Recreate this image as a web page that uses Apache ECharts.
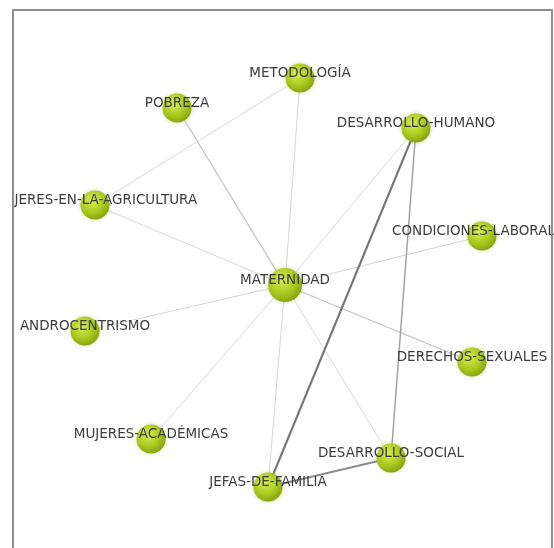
<!DOCTYPE html>
<html>
<head>
<meta charset="utf-8">
<script src="https://cdn.jsdelivr.net/npm/echarts@6/dist/echarts.min.js"></script>
<style>
  html, body { margin: 0; padding: 0; background: #fff; }
  #chart { width: 554px; height: 548px; }
</style>
</head>
<body>
<div id="chart"></div>
<script>
// nodes (layout positions)
const nodeNames = [
  'MATERNIDAD', 'METODOLOGÍA', 'POBREZA', 'DESARROLLO-HUMANO',
  'MUJERES-EN-LA-AGRICULTURA', 'CONDICIONES-LABORALES', 'ANDROCENTRISMO',
  'DERECHOS-SEXUALES', 'MUJERES-ACADÉMICAS', 'DESARROLLO-SOCIAL', 'JEFAS-DE-FAMILIA'
]
const nodeX = [285, 300, 177, 416, 95, 482, 85, 472, 151, 391, 268]
const nodeY = [285, 78, 108, 128, 205, 236, 331, 362, 439, 458, 487]

// edges
const edgeSource = [
  'MATERNIDAD', 'MATERNIDAD', 'MATERNIDAD', 'MATERNIDAD', 'MATERNIDAD',
  'MATERNIDAD', 'MATERNIDAD', 'MATERNIDAD', 'MATERNIDAD', 'MATERNIDAD',
  'METODOLOGÍA', 'DESARROLLO-HUMANO', 'DESARROLLO-HUMANO', 'DESARROLLO-SOCIAL'
]
const edgeTarget = [
  'METODOLOGÍA', 'POBREZA', 'MUJERES-EN-LA-AGRICULTURA', 'DESARROLLO-HUMANO', 'CONDICIONES-LABORALES',
  'ANDROCENTRISMO', 'DERECHOS-SEXUALES', 'MUJERES-ACADÉMICAS', 'DESARROLLO-SOCIAL', 'JEFAS-DE-FAMILIA',
  'MUJERES-EN-LA-AGRICULTURA', 'JEFAS-DE-FAMILIA', 'DESARROLLO-SOCIAL', 'JEFAS-DE-FAMILIA'
]
const edgeWeight = [1, 2, 1, 1, 1, 1, 2, 1, 1, 1, 1, 5, 3, 4]

const edgeColors = ['#d6d6d6', '#c2c2c2', '#a2a2a2', '#8c8c8c', '#767676']
const edgeWidths = [1, 1.3, 1.5, 1.8, 2.1]

const chart = echarts.init(document.getElementById('chart'))

const degree = {}
edgeSource.forEach((s, i) => {
  degree[s] = (degree[s] || 0) + 1
  degree[edgeTarget[i]] = (degree[edgeTarget[i]] || 0) + 1
})

const nodeColor = {
  type: 'radial',
  x: 0.4,
  y: 0.35,
  r: 0.75,
  colorStops: [
    { offset: 0, color: '#d8ef52' },
    { offset: 0.55, color: '#a9c81e' },
    { offset: 1, color: '#7c980c' },
  ],
}

const nodes = nodeNames.map((name, i) => ({
  name,
  value: [nodeX[i], nodeY[i]],
  symbolSize: degree[name] > 5 ? 34 : 29,
}))

const links = edgeSource.map((s, i) => ({
  source: s,
  target: edgeTarget[i],
  lineStyle: {
    color: edgeColors[edgeWeight[i] - 1],
    width: edgeWidths[edgeWeight[i] - 1],
  },
}))

const option = {
  animation: false,
  grid: { left: 0, right: 0, top: 0, bottom: 0 },
  xAxis: { type: 'value', min: 0, max: 554, show: false },
  yAxis: { type: 'value', min: 0, max: 548, inverse: true, show: false },
  graphic: [
    {
      type: 'rect',
      z: 100,
      shape: { x: 0, y: 0, width: 12, height: 548 },
      style: { fill: '#fff' },
    },
    {
      type: 'rect',
      z: 101,
      shape: { x: 13, y: 10, width: 539, height: 560 },
      style: { fill: 'none', stroke: '#8e8e8e', lineWidth: 2 },
    },
  ],
  series: [
    {
      type: 'graph',
      coordinateSystem: 'cartesian2d',
      symbol: 'circle',
      itemStyle: {
        color: nodeColor,
        shadowBlur: 4,
        shadowColor: 'rgba(120, 150, 0, 0.35)',
      },
      label: {
        show: true,
        position: 'inside',
        offset: [0, -5],
        fontFamily: 'DejaVu Sans',
        fontSize: 13.5,
        color: '#3c3c3c',
      },
      lineStyle: { opacity: 1, curveness: 0 },
      emphasis: { disabled: true },
      data: nodes,
      links: links,
    },
  ],
}

chart.setOption(option)
</script>
</body>
</html>
